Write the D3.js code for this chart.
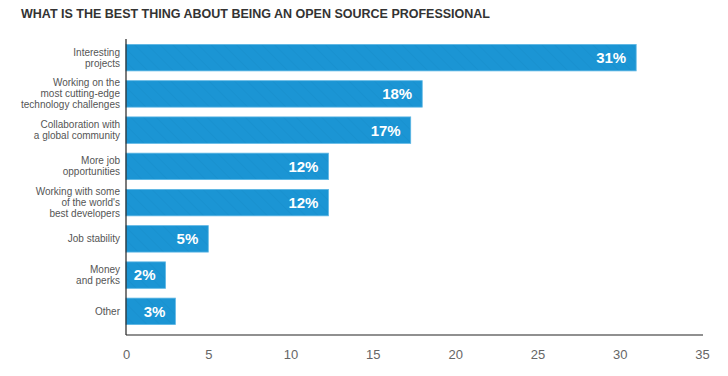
<!DOCTYPE html>
<html>
<head>
<meta charset="utf-8">
<script src="https://cdn.jsdelivr.net/npm/d3@7"></script>
<style>
body { margin: 0; background: #fff; }
svg { display: block; font-family: "Liberation Sans", Arial, Helvetica, sans-serif; }
</style>
</head>
<body>
<script>
// data
var categories = [
  ["Interesting", "projects"],
  ["Working on the", "most cutting-edge", "technology challenges"],
  ["Collaboration with", "a global community"],
  ["More job", "opportunities"],
  ["Working with some", "of the world's", "best developers"],
  ["Job stability"],
  ["Money", "and perks"],
  ["Other"]
];
var values = [31, 18, 17.3, 12.3, 12.3, 5, 2.4, 3];
var valueLabels = ["31%", "18%", "17%", "12%", "12%", "5%", "2%", "3%"];
var xTicks = [0, 5, 10, 15, 20, 25, 30, 35];

var W = 728, H = 376,
    margin = {top: 39, bottom: 41, left: 126, right: 26};

var svg = d3.select("body").append("svg").attr("width", W).attr("height", H);

// hatch pattern for bars
var defs = svg.append("defs");
var pat = defs.append("pattern")
  .attr("id", "hatch")
  .attr("patternUnits", "userSpaceOnUse")
  .attr("width", 9).attr("height", 9)
  .attr("patternTransform", "rotate(-45)");
pat.append("rect").attr("width", 9).attr("height", 9).attr("fill", "#1b95d4");
pat.append("line").attr("x1", 0).attr("y1", 0).attr("x2", 0).attr("y2", 9)
  .attr("stroke", "#1482bd").attr("stroke-width", 1).attr("stroke-opacity", 0.5);

var x = d3.scaleLinear().domain([0, 35]).range([margin.left, W - margin.right]);
var y = d3.scaleBand().domain(d3.range(categories.length))
  .range([margin.top, H - margin.bottom - 5])
  .paddingInner(0.27).paddingOuter(0.15);

// title
svg.append("text").text("WHAT IS THE BEST THING ABOUT BEING AN OPEN SOURCE PROFESSIONAL")
  .attr("x", 21).attr("y", 18)
  .attr("font-size", 12.5).attr("font-weight", "bold").attr("fill", "#333");

// bars
svg.selectAll("rect.bar").data(values).enter().append("rect")
  .attr("class", "bar")
  .attr("x", x(0))
  .attr("y", function(d, i){ return y(i); })
  .attr("width", function(d){ return x(d) - x(0); })
  .attr("height", y.bandwidth())
  .attr("fill", "url(#hatch)")
  .attr("stroke", "#5cb6e4").attr("stroke-width", 0.8);

// value labels inside bars
svg.selectAll("text.val").data(values).enter().append("text")
  .attr("class", "val")
  .text(function(d, i){ return valueLabels[i]; })
  .attr("x", function(d){ return x(d) - 10; })
  .attr("y", function(d, i){ return y(i) + y.bandwidth() / 2; })
  .attr("dy", "0.36em")
  .attr("text-anchor", "end")
  .attr("font-size", 15).attr("font-weight", "bold").attr("fill", "#fff");

// category labels
var lineH = 11;
var cat = svg.selectAll("text.cat").data(categories).enter().append("text")
  .attr("class", "cat")
  .attr("text-anchor", "end")
  .attr("font-size", 10).attr("fill", "#555")
  .attr("y", function(d, i){ return y(i) + y.bandwidth() / 2 - (d.length - 1) * lineH / 2; });
cat.each(function(d){
  var t = d3.select(this);
  d.forEach(function(line, j){
    t.append("tspan").text(line)
      .attr("x", 120)
      .attr("dy", j === 0 ? "0.35em" : lineH);
  });
});

// axes lines
var axisY = H - margin.bottom;
svg.append("line")
  .attr("x1", x(0)).attr("x2", x(0))
  .attr("y1", margin.top).attr("y2", axisY)
  .attr("stroke", "#222").attr("stroke-width", 1.2);
svg.append("line")
  .attr("x1", x(0)).attr("x2", x(35) + 1)
  .attr("y1", axisY).attr("y2", axisY)
  .attr("stroke", "#222").attr("stroke-width", 1.2);

// x tick labels
var xAxis = svg.append("g")
  .attr("transform", "translate(0," + (axisY + 24) + ")")
  .call(d3.axisBottom(x).tickValues(xTicks).tickSize(0).tickPadding(0));
xAxis.select(".domain").remove();
xAxis.selectAll("text")
  .attr("font-family", "\"Liberation Sans\", Arial, sans-serif")
  .attr("font-size", 13).attr("fill", "#666").attr("dy", "0");
</script>
</body>
</html>
